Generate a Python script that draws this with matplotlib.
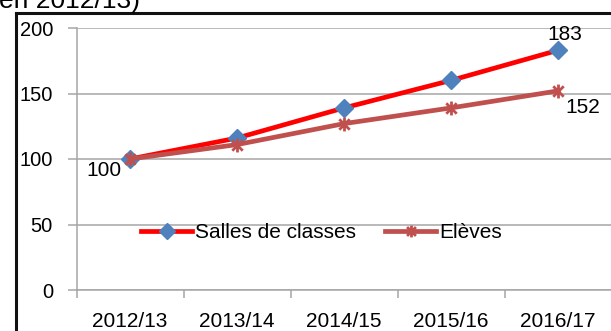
import matplotlib
matplotlib.use("Agg")
import matplotlib.pyplot as plt
from matplotlib.lines import Line2D
from matplotlib.path import Path

plt.rcParams['font.family'] = ['Liberation Sans', 'DejaVu Sans']

# Indices (base 100 en 2012/13)
annees = ["2012/13", "2013/14", "2014/15", "2015/16", "2016/17"]
salles = [100, 116, 139, 160, 183]
eleves = [100, 111, 127, 139, 152]
yticks = [0, 50, 100, 150, 200]

W, H = 611, 331
fig = plt.figure(figsize=(W / 100, H / 100), dpi=100)
ax = fig.add_axes([76.5 / W, 41 / H, 535 / W, 262 / H])

grid_col = "#a6a6a6"
x = list(range(len(annees)))

# Excel-style star marker: vertical bar plus an X
star = Path([(0, -1), (0, 1), (-0.75, -0.75), (0.75, 0.75), (-0.75, 0.75), (0.75, -0.75)],
            [Path.MOVETO, Path.LINETO] * 3)

ax.plot(x, salles, color="#ff0000", lw=3.4, marker="D", ms=9.5,
        mfc="#4f81bd", mec="#4f81bd", label="Salles de classes", zorder=3)
ax.plot(x, eleves, color="#c0504d", lw=3.4, marker=star, ms=10, mew=2.0,
        mec="#c0504d", label="Elèves", zorder=4)

ax.set_xlim(-0.5, len(annees) - 0.5)
ax.set_ylim(0, 200)

for s in ("top", "right"):
    ax.spines[s].set_visible(False)
for s in ("left", "bottom"):
    ax.spines[s].set_color(grid_col)
    ax.spines[s].set_linewidth(1.1)

ax.set_yticks(yticks)
ax.tick_params(axis="y", length=6.5, width=1.1, color=grid_col, pad=10.5,
               labelsize=14.5, labelcolor="black")
ax.yaxis.grid(True, color=grid_col, lw=1.1)
ax.set_axisbelow(True)

ax.set_xticks([i - 0.5 for i in range(len(annees) + 1)])
ax.set_xticklabels([])
ax.set_xticks(x, minor=True)
ax.set_xticklabels(annees, minor=True)
ax.tick_params(axis="x", which="major", length=5.5, width=1.1, color=grid_col)
ax.tick_params(axis="x", which="minor", length=0, pad=16, labelsize=15)

# value labels
ax.annotate(str(salles[0]), (0, salles[0]), xytext=(-9, -11), textcoords="offset pixels",
            ha="right", va="center", fontsize=15)
ax.annotate(str(salles[-1]), (4, salles[-1]), xytext=(7, 16), textcoords="offset pixels",
            ha="center", va="center", fontsize=15)
ax.annotate(str(eleves[-1]), (4, eleves[-1]), xytext=(25, -17), textcoords="offset pixels",
            ha="center", va="center", fontsize=15)

ax.legend(loc="center left", bbox_to_anchor=((141 - 76.5) / 535, (290 - 233) / 262),
          ncol=2, frameon=False, fontsize=15, borderpad=0, borderaxespad=0,
          handlelength=2.45, handletextpad=0.15, columnspacing=1.4, markerscale=0.85)

# chart frame and heading
fig.add_artist(Line2D([15.5 / W, 15.5 / W], [0, (H - 12.5) / H], color="#111111",
                      lw=2.2, solid_capstyle="projecting"))
fig.add_artist(Line2D([15.5 / W, 1], [(H - 12.5) / H, (H - 12.5) / H], color="#111111",
                      lw=2.2, solid_capstyle="projecting"))
fig.text(140 / W, 1 - 8 / H, "en 2012/13)", ha="right", va="baseline", fontsize=19)

fig.savefig("out.png", dpi=100)
